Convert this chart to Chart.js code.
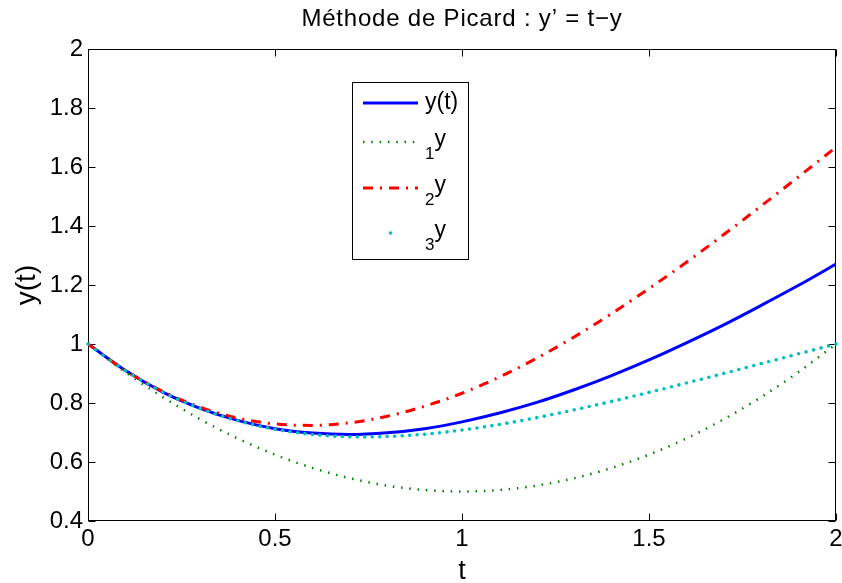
<!DOCTYPE html>
<html>
<head>
<meta charset="utf-8">
<script src="https://cdn.jsdelivr.net/npm/chart.js@4.4.0/dist/chart.umd.min.js"></script>
<style>
  html, body { margin: 0; padding: 0; background: #fff; }
  canvas { display: block; }
</style>
</head>
<body>
<canvas id="picardChart" width="842" height="583"></canvas>
<script>
// t grid for y(t), 1y and 2y
const tValues = [0, 0.1, 0.2, 0.3, 0.4, 0.5, 0.6, 0.7, 0.8, 0.9, 1.0,
                 1.1, 1.2, 1.3, 1.4, 1.5, 1.6, 1.7, 1.8, 1.9, 2.0];
const yExact = [1.000, 0.910, 0.837, 0.782, 0.741, 0.713, 0.698, 0.693, 0.699, 0.713, 0.736,
                0.766, 0.802, 0.845, 0.893, 0.946, 1.004, 1.065, 1.131, 1.199, 1.271];
const y1Values = [1.000, 0.905, 0.820, 0.745, 0.680, 0.625, 0.580, 0.545, 0.520, 0.505, 0.500,
                  0.505, 0.520, 0.545, 0.580, 0.625, 0.680, 0.745, 0.820, 0.905, 1.000];
const y2Values = [1.000, 0.910, 0.839, 0.786, 0.749, 0.729, 0.724, 0.733, 0.755, 0.789, 0.833,
                  0.888, 0.952, 1.024, 1.103, 1.188, 1.277, 1.371, 1.468, 1.567, 1.667];

// 3y is plotted with '.' markers on a finer t grid
const tFine = [0, 0.02, 0.04, 0.06, 0.08, 0.10, 0.12, 0.14, 0.16, 0.18,
               0.20, 0.22, 0.24, 0.26, 0.28, 0.30, 0.32, 0.34, 0.36, 0.38,
               0.40, 0.42, 0.44, 0.46, 0.48, 0.50, 0.52, 0.54, 0.56, 0.58,
               0.60, 0.62, 0.64, 0.66, 0.68, 0.70, 0.72, 0.74, 0.76, 0.78,
               0.80, 0.82, 0.84, 0.86, 0.88, 0.90, 0.92, 0.94, 0.96, 0.98,
               1.00, 1.02, 1.04, 1.06, 1.08, 1.10, 1.12, 1.14, 1.16, 1.18,
               1.20, 1.22, 1.24, 1.26, 1.28, 1.30, 1.32, 1.34, 1.36, 1.38,
               1.40, 1.42, 1.44, 1.46, 1.48, 1.50, 1.52, 1.54, 1.56, 1.58,
               1.60, 1.62, 1.64, 1.66, 1.68, 1.70, 1.72, 1.74, 1.76, 1.78,
               1.80, 1.82, 1.84, 1.86, 1.88, 1.90, 1.92, 1.94, 1.96, 1.98, 2.00];
const y3Values = [1.0000, 0.9804, 0.9616, 0.9435, 0.9262, 0.9097, 0.8938, 0.8787, 0.8643, 0.8505,
                  0.8374, 0.8249, 0.8131, 0.8019, 0.7913, 0.7813, 0.7719, 0.7631, 0.7547, 0.7470,
                  0.7397, 0.7330, 0.7268, 0.7210, 0.7157, 0.7109, 0.7066, 0.7027, 0.6992, 0.6961,
                  0.6934, 0.6911, 0.6892, 0.6877, 0.6865, 0.6857, 0.6852, 0.6850, 0.6852, 0.6856,
                  0.6864, 0.6874, 0.6888, 0.6904, 0.6922, 0.6943, 0.6967, 0.6993, 0.7021, 0.7051,
                  0.7083, 0.7118, 0.7154, 0.7192, 0.7232, 0.7273, 0.7317, 0.7361, 0.7407, 0.7455,
                  0.7504, 0.7554, 0.7606, 0.7658, 0.7712, 0.7767, 0.7822, 0.7879, 0.7937, 0.7995,
                  0.8054, 0.8114, 0.8174, 0.8235, 0.8297, 0.8359, 0.8422, 0.8485, 0.8549, 0.8613,
                  0.8677, 0.8742, 0.8807, 0.8872, 0.8938, 0.9003, 0.9069, 0.9135, 0.9201, 0.9268,
                  0.9334, 0.9400, 0.9467, 0.9533, 0.9600, 0.9667, 0.9733, 0.9800, 0.9867, 0.9933, 1.0000];

const xTickValues = [0, 0.5, 1, 1.5, 2];
const yTickValues = [0.4, 0.6, 0.8, 1, 1.2, 1.4, 1.6, 1.8, 2];

const chartTitle = 'Méthode de Picard : y’ = t−y';
// legend text: main part and the subscript written before it
const legendMain = ['y(t)', 'y', 'y', 'y'];
const legendSub = ['', '1', '2', '3'];

const FONT = '"Liberation Sans", Arial, Helvetica, sans-serif';

const toPoints = (xs, ys) => xs.map((x, i) => ({ x: x, y: ys[i] }));

// MATLAB-like box with inward ticks on all four sides, title, and the boxed legend
const matlabAxes = {
    id: 'matlabAxes',
    beforeDatasetsDraw(chart) {
        const { ctx, chartArea: a, scales: { x, y } } = chart;
        const L = Math.round(a.left) + 0.5, R = Math.round(a.right) - 0.5;
        const T = Math.round(a.top) + 0.5, B = Math.round(a.bottom) - 0.5;
        const tick = 7;
        ctx.save();
        ctx.strokeStyle = '#000';
        ctx.lineWidth = 1;
        ctx.strokeRect(L, T, R - L, B - T);
        ctx.beginPath();
        xTickValues.forEach((v) => {
            const px = Math.round(x.getPixelForValue(v)) + 0.5;
            ctx.moveTo(px, B); ctx.lineTo(px, B - tick);
            ctx.moveTo(px, T); ctx.lineTo(px, T + tick);
        });
        yTickValues.forEach((v) => {
            const py = Math.round(y.getPixelForValue(v)) + 0.5;
            ctx.moveTo(L, py); ctx.lineTo(L + tick, py);
            ctx.moveTo(R, py); ctx.lineTo(R - tick, py);
        });
        ctx.stroke();

        // title, centred over the plot box
        ctx.fillStyle = '#000';
        ctx.font = '24px ' + FONT;
        ctx.letterSpacing = '0.8px';
        ctx.textAlign = 'center';
        ctx.textBaseline = 'middle';
        ctx.fillText(chartTitle, (a.left + a.right) / 2, 19);
        ctx.restore();
    },
    afterDraw(chart) {
        const ctx = chart.ctx;
        const box = { left: 352.5, top: 82.5, right: 468.5, bottom: 259.5 };
        const rows = [103, 142, 188, 233];
        const lineX0 = 363, lineX1 = 418, textX = 425;
        ctx.save();
        ctx.fillStyle = '#fff';
        ctx.fillRect(box.left, box.top, box.right - box.left, box.bottom - box.top);
        ctx.strokeStyle = '#000';
        ctx.lineWidth = 1;
        ctx.strokeRect(box.left, box.top, box.right - box.left, box.bottom - box.top);

        chart.data.datasets.forEach((ds, i) => {
            const yRow = rows[i];
            if (ds.showLine === false) {
                ctx.fillStyle = ds.pointBackgroundColor;
                ctx.beginPath();
                ctx.arc((lineX0 + lineX1) / 2, yRow, ds.pointRadius, 0, Math.PI * 2);
                ctx.fill();
            } else {
                ctx.strokeStyle = ds.borderColor;
                ctx.lineWidth = ds.borderWidth;
                ctx.setLineDash(ds.borderDash || []);
                ctx.beginPath();
                ctx.moveTo(lineX0, yRow);
                ctx.lineTo(lineX1, yRow);
                ctx.stroke();
                ctx.setLineDash([]);
            }
            ctx.fillStyle = '#000';
            ctx.textAlign = 'left';
            ctx.textBaseline = 'alphabetic';
            if (legendSub[i]) {
                ctx.font = '17px ' + FONT;
                ctx.fillText(legendSub[i], textX, yRow + 17);
                const w = ctx.measureText(legendSub[i]).width;
                ctx.font = '23px ' + FONT;
                ctx.fillText(legendMain[i], textX + w, yRow + 4);
            } else {
                ctx.font = '23px ' + FONT;
                ctx.textBaseline = 'middle';
                ctx.fillText(legendMain[i], textX, yRow);
            }
        });
        ctx.restore();
    }
};

new Chart(document.getElementById('picardChart'), {
    type: 'line',
    data: {
        datasets: [{
            label: 'y(t)',
            data: toPoints(tValues, yExact),
            borderColor: '#0000ff',
            borderWidth: 3,
            pointRadius: 0,
            cubicInterpolationMode: 'monotone',
            order: 4
        }, {
            label: '1y',
            data: toPoints(tValues, y1Values),
            borderColor: 'rgb(0,128,0)',
            borderWidth: 2.5,
            borderDash: [1.5, 6.8],
            pointRadius: 0,
            cubicInterpolationMode: 'monotone',
            order: 3
        }, {
            label: '2y',
            data: toPoints(tValues, y2Values),
            borderColor: '#ff0000',
            borderWidth: 3,
            borderDash: [10, 7, 2, 7],
            pointRadius: 0,
            cubicInterpolationMode: 'monotone',
            order: 2
        }, {
            label: '3y',
            data: toPoints(tFine, y3Values),
            showLine: false,
            pointRadius: 1.8,
            pointBackgroundColor: 'rgb(0,191,191)',
            pointBorderWidth: 0,
            clip: 6,
            order: 1
        }]
    },
    options: {
        responsive: false,
        animation: false,
        layout: { padding: { left: 0, right: 6, top: 49, bottom: 0 } },
        plugins: {
            legend: { display: false },
            tooltip: { enabled: false },
            title: { display: false }
        },
        scales: {
            x: {
                type: 'linear',
                min: 0,
                max: 2,
                afterBuildTicks: (s) => { s.ticks = xTickValues.map((v) => ({ value: v })); },
                afterFit: (s) => { s.height = 62; s.paddingLeft = 0; s.paddingRight = 0; },
                ticks: {
                    color: '#000',
                    font: { family: FONT, size: 24 },
                    padding: 4,
                    maxRotation: 0,
                    callback: (v) => String(v)
                },
                grid: { display: false, drawTicks: false },
                border: { display: false },
                title: {
                    display: true,
                    text: 't',
                    color: '#000',
                    font: { family: FONT, size: 27, lineHeight: 1 },
                    padding: { top: 0, bottom: -2 }
                }
            },
            y: {
                min: 0.4,
                max: 2,
                afterBuildTicks: (s) => { s.ticks = yTickValues.map((v) => ({ value: v })); },
                afterFit: (s) => { s.width = 88; s.paddingTop = 0; s.paddingBottom = 0; },
                ticks: {
                    color: '#000',
                    font: { family: FONT, size: 24 },
                    padding: 5,
                    callback: (v) => String(v)
                },
                grid: { display: false, drawTicks: false },
                border: { display: false },
                title: {
                    display: true,
                    text: 'y(t)',
                    color: '#000',
                    font: { family: FONT, size: 28, lineHeight: 1 },
                    padding: { top: 13, bottom: 0 }
                }
            }
        }
    },
    plugins: [matlabAxes]
});
</script>
</body>
</html>
